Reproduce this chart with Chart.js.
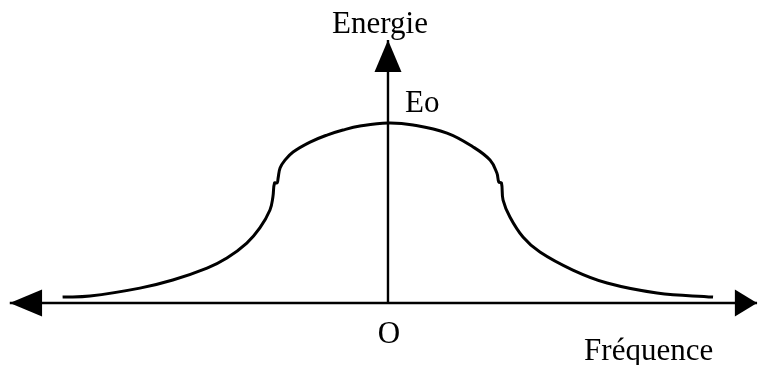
<!DOCTYPE html>
<html>
<head>
<meta charset="utf-8">
<script src="https://cdn.jsdelivr.net/npm/chart.js@4/dist/chart.umd.min.js"></script>
<style>
	html, body { margin: 0; padding: 0; background: #fff; }
	canvas { display: block; }
</style>
</head>
<body>
<canvas id="energyChart" width="760" height="365"></canvas>
<script>
// frequency (arbitrary units, 0 at O) and energy (Eo = 1)
const FREQ = [
	-9.98, -9.14, -7.61, -6.6, -5.55, -4.94, -4.33, -3.93, -3.62, -3.53, -3.48,
	-3.4, -3.37, -3.31, -3.16, -2.91, -2.39, -1.87, -1.38, -0.86, 0,
	0.77, 1.81, 2.61, 3.13, 3.34, 3.4, 3.48, 3.53, 3.74, 4.14, 4.66, 5.67,
	6.72, 8.25, 9.97,
];
const ENERGY = [
	0.033, 0.039, 0.083, 0.128, 0.194, 0.25, 0.333, 0.417, 0.517, 0.589, 0.667,
	0.667, 0.694, 0.75, 0.794, 0.839, 0.894, 0.933, 0.961, 0.983, 1,
	0.989, 0.944, 0.867, 0.794, 0.722, 0.672, 0.667, 0.572, 0.478, 0.367,
	0.283, 0.183, 0.111, 0.056, 0.033,
];
const FREQ_AXIS = [-11.6, 11.32];
const ENERGY_AXIS = [0, 1.461];
const ARROW_BASE = { left: -10.61, right: 10.64, top: 1.283 };
const LABELS = { y: 'Energie', x: 'Fréquence', peak: 'Eo', origin: 'O' };

const FONT = '31px "Liberation Serif", "Times New Roman", serif';

const axesDecor = {
	id: 'axesDecor',
	afterDatasetsDraw(chart) {
		const { ctx, scales } = chart;
		const x = scales.x;
		const y = scales.y;
		const ox = x.getPixelForValue(0);
		const oy = y.getPixelForValue(0);
		const hw = 13.5;
		ctx.save();
		ctx.fillStyle = '#000';
		// left arrow
		ctx.beginPath();
		ctx.moveTo(x.getPixelForValue(FREQ_AXIS[0]), oy);
		ctx.lineTo(x.getPixelForValue(ARROW_BASE.left), oy - hw);
		ctx.lineTo(x.getPixelForValue(ARROW_BASE.left), oy + hw);
		ctx.closePath();
		ctx.fill();
		// right arrow
		ctx.beginPath();
		ctx.moveTo(x.getPixelForValue(FREQ_AXIS[1]), oy);
		ctx.lineTo(x.getPixelForValue(ARROW_BASE.right), oy - hw);
		ctx.lineTo(x.getPixelForValue(ARROW_BASE.right), oy + hw);
		ctx.closePath();
		ctx.fill();
		// up arrow
		ctx.beginPath();
		ctx.moveTo(ox, y.getPixelForValue(ENERGY_AXIS[1]));
		ctx.lineTo(ox - hw, y.getPixelForValue(ARROW_BASE.top));
		ctx.lineTo(ox + hw, y.getPixelForValue(ARROW_BASE.top));
		ctx.closePath();
		ctx.fill();

		ctx.font = FONT;
		ctx.textBaseline = 'alphabetic';
		ctx.textAlign = 'center';
		ctx.fillText(LABELS.y, ox - 8, y.getPixelForValue(ENERGY_AXIS[1]) - 7);
		ctx.fillText(LABELS.origin, ox + 1, oy + 40);
		ctx.textAlign = 'left';
		ctx.fillText(LABELS.peak, ox + 17, y.getPixelForValue(1) - 11);
		ctx.fillText(LABELS.x, x.getPixelForValue(FREQ_AXIS[1]) - 173, oy + 57);
		ctx.restore();
	},
};

new Chart(document.querySelector('#energyChart'), {
	type: 'line',
	data: {
		datasets: [
			{
				label: 'curve',
				data: FREQ.map((f, i) => ({ x: f, y: ENERGY[i] })),
				borderColor: '#000',
				borderWidth: 3,
				pointRadius: 0,
				tension: 0.4,
				fill: false,
			},
			{
				label: 'freq axis',
				data: FREQ_AXIS.map(f => ({ x: f, y: 0 })),
				borderColor: '#000',
				borderWidth: 2.4,
				pointRadius: 0,
			},
			{
				label: 'energy axis',
				data: ENERGY_AXIS.map(e => ({ x: 0, y: e })),
				borderColor: '#000',
				borderWidth: 2.4,
				pointRadius: 0,
			},
		],
	},
	options: {
		responsive: false,
		animation: false,
		layout: { padding: 0 },
		scales: {
			x: { type: 'linear', min: -11.9, max: 11.41, display: false },
			y: { type: 'linear', min: -0.344, max: 1.683, display: false },
		},
		plugins: {
			legend: { display: false },
			tooltip: { enabled: false },
		},
	},
	plugins: [axesDecor],
});
</script>
</body>
</html>
